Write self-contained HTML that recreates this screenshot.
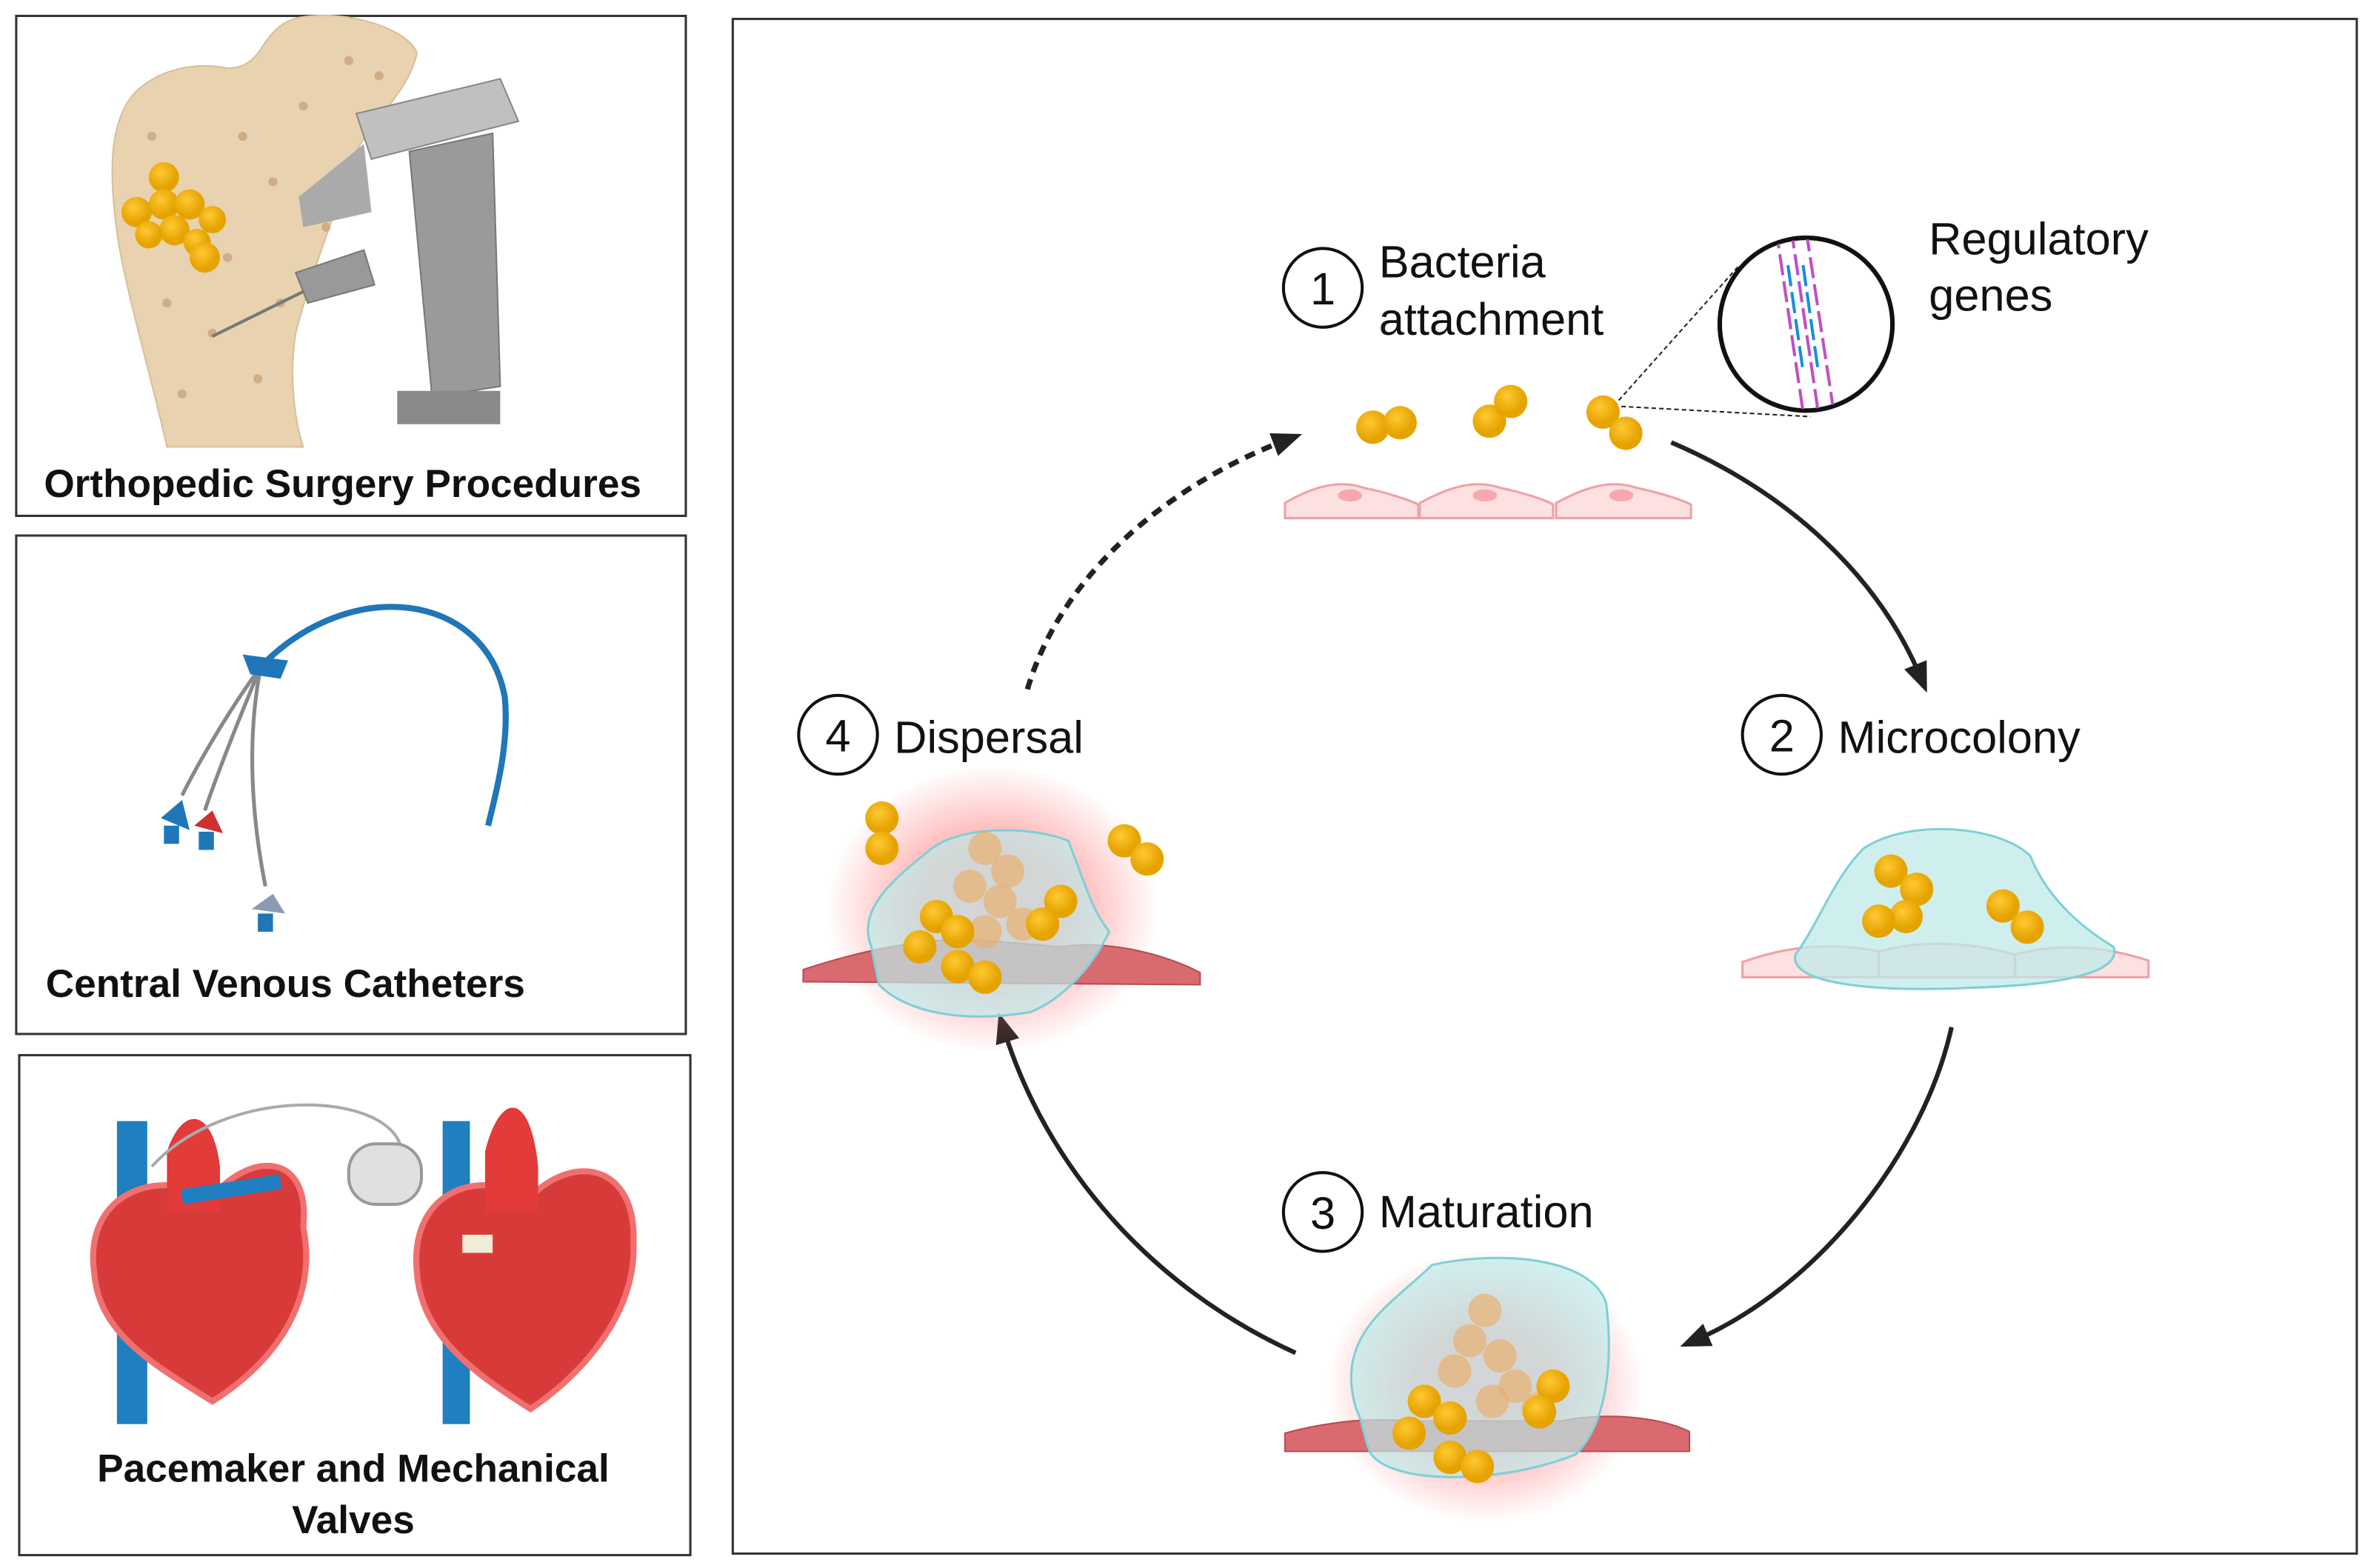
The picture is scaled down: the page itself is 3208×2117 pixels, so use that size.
<!DOCTYPE html>
<html><head><meta charset="utf-8"><style>
html,body{margin:0;padding:0;background:#fff}
svg{display:block}
text{font-family:"Liberation Sans",sans-serif}
</style></head><body>
<svg width="3208" height="2117" viewBox="0 0 1568 1035" xmlns="http://www.w3.org/2000/svg">
<defs>
<radialGradient id="glow"><stop offset="0.4" stop-color="#ff6060" stop-opacity="0.55"/><stop offset="1" stop-color="#ff6060" stop-opacity="0"/></radialGradient>
<radialGradient id="ball" cx="0.4" cy="0.35"><stop offset="0" stop-color="#ffc933"/><stop offset="1" stop-color="#e5a300"/></radialGradient>
<marker id="ahl" markerWidth="20" markerHeight="20" refX="10" refY="10" orient="auto" markerUnits="userSpaceOnUse" viewBox="0 0 20 20"><path d="M0,2 L20,10 L0,18 z" fill="#222"/></marker>
<clipPath id="mag"><circle cx="1192" cy="214" r="56"/></clipPath>
</defs>
<rect width="1568" height="1035" fill="#fff"/>
<rect x="10.5" y="10.5" width="442" height="330" fill="none" stroke="#333" stroke-width="1.5"/>
<rect x="10.5" y="353.5" width="442" height="329" fill="none" stroke="#333" stroke-width="1.5"/>
<rect x="12.5" y="696.5" width="443" height="330" fill="none" stroke="#333" stroke-width="1.5"/>
<rect x="483.5" y="12.5" width="1072" height="1013" fill="none" stroke="#333" stroke-width="1.5"/>

<!-- bone -->
<path d="M110,295 C100,250 85,200 78,160 C72,120 70,80 90,60 C110,42 135,42 150,45 C175,45 170,20 195,12 C230,5 270,20 275,35 C270,60 245,80 235,100 C225,130 205,180 195,220 C190,250 195,280 200,295 Z" fill="#e8d2b0" stroke="#d8bf98"/>
<g fill="#c9a57a" opacity="0.8">
<circle cx="120" cy="150" r="3"/><circle cx="150" cy="170" r="3"/><circle cx="180" cy="120" r="3"/><circle cx="200" cy="70" r="3"/><circle cx="230" cy="40" r="3"/><circle cx="140" cy="220" r="3"/><circle cx="170" cy="250" r="3"/><circle cx="120" cy="260" r="3"/><circle cx="250" cy="50" r="3"/><circle cx="160" cy="90" r="3"/><circle cx="110" cy="200" r="3"/><circle cx="185" cy="200" r="3"/><circle cx="215" cy="150" r="3"/><circle cx="100" cy="90" r="3"/>
</g>
<g fill="url(#ball)">
<circle cx="108" cy="117" r="10"/><circle cx="90" cy="140" r="10"/><circle cx="108" cy="135" r="10"/><circle cx="125" cy="135" r="10"/><circle cx="140" cy="145" r="9"/><circle cx="115" cy="152" r="10"/><circle cx="130" cy="160" r="9"/><circle cx="135" cy="170" r="10"/><circle cx="98" cy="155" r="9"/>
</g>
<!-- drill -->
<line x1="140" y1="222" x2="205" y2="190" stroke="#777" stroke-width="2"/>
<path d="M195,180 L240,165 L247,188 L203,200 Z" fill="#999" stroke="#777"/>
<path d="M235,75 L330,52 L342,80 L245,105 Z" fill="#c0c0c0" stroke="#888"/>
<path d="M240,95 L245,140 L200,150 L197,130 Z" fill="#aaa"/>
<path d="M270,100 L325,88 L330,255 L285,262 Z" fill="#9a9a9a" stroke="#777"/>
<rect x="262" y="258" width="68" height="22" fill="#8a8a8a"/>
<text x="226" y="328" font-size="26" font-weight="bold" text-anchor="middle" fill="#111">Orthopedic Surgery Procedures</text>

<!-- catheter -->
<path d="M172,440 C230,380 320,390 333,460 C336,490 328,520 322,545" fill="none" stroke="#1f76b8" stroke-width="4"/>
<path d="M172,440 C150,470 130,505 120,525 M172,440 C155,480 140,520 135,535 M172,440 C160,500 170,560 175,585" fill="none" stroke="#888" stroke-width="2.5"/>
<path d="M160,432 L190,436 L185,448 L165,445 Z" fill="#1f76b8"/>
<path d="M106,540 L120,528 L125,548 Z" fill="#1f76b8"/><rect x="108" y="545" width="10" height="12" fill="#1f76b8"/>
<path d="M128,545 L140,535 L147,550 Z" fill="#d03030"/><rect x="131" y="549" width="10" height="12" fill="#1f76b8"/>
<path d="M166,600 L180,590 L188,603 Z" fill="#8a9ab0"/><rect x="170" y="603" width="10" height="12" fill="#1f76b8"/>
<text x="30" y="658" font-size="26" font-weight="bold" fill="#111">Central Venous Catheters</text>

<!-- hearts -->
<g>
<rect x="77" y="740" width="20" height="200" fill="#1f7fc0"/>
<path d="M62,840 C55,790 100,770 140,790 C165,760 205,760 200,810 C210,860 180,900 140,925 C100,900 65,880 62,840 Z" fill="#d83a3a" stroke="#f07070" stroke-width="4"/>
<path d="M110,760 C120,730 140,730 145,770 L145,800 L110,800 Z" fill="#e33a3a"/>
<path d="M120,790 L185,780" stroke="#1f7fc0" stroke-width="10"/>
<path d="M100,770 C150,715 260,720 265,760" fill="none" stroke="#aaa" stroke-width="2"/>
<rect x="230" y="755" width="48" height="40" rx="18" fill="#e0e0e0" stroke="#999" stroke-width="2"/>
<rect x="292" y="740" width="18" height="200" fill="#1f7fc0"/>
<path d="M275,840 C270,790 310,770 350,790 C380,760 420,770 418,820 C420,870 380,910 350,930 C310,905 278,880 275,840 Z" fill="#d83a3a" stroke="#f07070" stroke-width="4"/>
<path d="M320,760 C330,720 350,720 355,770 L355,800 L320,800 Z" fill="#e33a3a"/>
<rect x="305" y="815" width="20" height="12" fill="#f0ecd8"/>
</g>
<text x="233" y="978" font-size="26" font-weight="bold" text-anchor="middle" fill="#111">Pacemaker and Mechanical</text>
<text x="233" y="1012" font-size="26" font-weight="bold" text-anchor="middle" fill="#111">Valves</text>

<!-- labels -->
<g fill="none" stroke="#111" stroke-width="2">
<circle cx="873" cy="190" r="26"/><circle cx="1176" cy="485" r="26"/><circle cx="873" cy="800" r="26"/><circle cx="553" cy="485" r="26"/>
</g>
<g font-size="30" fill="#111">
<text x="873" y="201" text-anchor="middle">1</text><text x="1176" y="496" text-anchor="middle">2</text><text x="873" y="811" text-anchor="middle">3</text><text x="553" y="496" text-anchor="middle">4</text>
<text x="910" y="183">Bacteria</text><text x="910" y="221">attachment</text>
<text x="1273" y="168">Regulatory</text><text x="1273" y="205">genes</text>
<text x="1213" y="497">Microcolony</text><text x="910" y="810">Maturation</text><text x="590" y="497">Dispersal</text>
</g>

<!-- magnifier -->
<line x1="1065" y1="268" x2="1148" y2="175" stroke="#222" stroke-dasharray="3,2"/>
<line x1="1065" y1="268" x2="1195" y2="275" stroke="#222" stroke-dasharray="3,2"/>
<circle cx="1192" cy="214" r="57" fill="#fff" stroke="#111" stroke-width="3"/>
<g stroke-width="2" stroke-dasharray="14,4" clip-path="url(#mag)">
<line x1="1172" y1="150" x2="1190" y2="272" stroke="#c050c0"/>
<line x1="1182" y1="150" x2="1200" y2="272" stroke="#c050c0"/>
<line x1="1192" y1="152" x2="1210" y2="270" stroke="#c050c0"/>
<line x1="1180" y1="175" x2="1190" y2="245" stroke="#1a8fd6"/>
<line x1="1190" y1="175" x2="1200" y2="245" stroke="#1a8fd6"/>
</g>

<!-- arrows -->
<path d="M1103,292 C1180,325 1240,380 1268,448" fill="none" stroke="#222" stroke-width="3" marker-end="url(#ahl)"/>
<path d="M1288,678 C1270,760 1200,850 1118,885" fill="none" stroke="#222" stroke-width="3" marker-end="url(#ahl)"/>
<path d="M855,893 C760,850 690,770 662,678" fill="none" stroke="#222" stroke-width="3" marker-end="url(#ahl)"/>
<path d="M678,455 C700,380 770,320 850,290" fill="none" stroke="#222" stroke-width="3.5" stroke-dasharray="7,5" marker-end="url(#ahl)"/>

<!-- stage 1 -->
<g fill="#fde0e0" stroke="#f0a0a8" stroke-width="1.5">
<path d="M848,342 L848,332 C860,325 880,315 900,322 C915,325 930,330 936,333 L936,342 Z"/>
<path d="M937,342 L937,332 C950,325 970,315 990,322 C1005,325 1020,330 1025,333 L1025,342 Z"/>
<path d="M1027,342 L1027,332 C1040,325 1060,315 1080,322 C1095,325 1110,330 1116,333 L1116,342 Z"/>
</g>
<g fill="#f7a8ae"><ellipse cx="891" cy="327" rx="8" ry="4"/><ellipse cx="980" cy="327" rx="8" ry="4"/><ellipse cx="1070" cy="327" rx="8" ry="4"/></g>
<g fill="url(#ball)">
<circle cx="906" cy="282" r="11"/><circle cx="924" cy="279" r="11"/>
<circle cx="983" cy="278" r="11"/><circle cx="997" cy="265" r="11"/>
<circle cx="1058" cy="272" r="11"/><circle cx="1073" cy="286" r="11"/>
</g>

<!-- stage 2 -->
<g fill="#fde0e0" stroke="#f0a0a8" stroke-width="1.5">
<path d="M1150,645 L1150,635 C1170,628 1200,620 1240,628 L1240,645 Z"/>
<path d="M1240,645 L1240,628 C1270,620 1300,622 1330,630 L1330,645 Z"/>
<path d="M1330,645 L1330,630 C1360,622 1390,625 1418,634 L1418,645 Z"/>
</g>
<path d="M1185,630 C1200,610 1210,580 1230,560 C1260,540 1320,545 1340,565 C1350,590 1370,610 1395,625 C1400,640 1370,650 1300,652 C1240,655 1180,650 1185,630 Z" fill="#bfeaea" fill-opacity="0.75" stroke="#7fcfd6" stroke-width="1.5"/>
<g fill="url(#ball)">
<circle cx="1248" cy="575" r="11"/><circle cx="1265" cy="587" r="11"/><circle cx="1258" cy="605" r="11"/><circle cx="1240" cy="608" r="11"/>
<circle cx="1322" cy="598" r="11"/><circle cx="1338" cy="612" r="11"/>
</g>

<!-- stage 3 -->
<ellipse cx="980" cy="915" rx="105" ry="90" fill="url(#glow)"/>
<path d="M848,958 L848,946 C870,940 900,935 930,938 L1030,938 C1060,932 1095,935 1115,945 L1115,958 Z" fill="#d86a70" stroke="#b84a52"/>
<path d="M895,930 C880,880 920,860 945,835 C990,825 1050,830 1060,860 C1065,900 1060,940 1040,960 C990,980 920,980 905,960 C900,950 900,940 895,930 Z" fill="#bfeaea" fill-opacity="0.7" stroke="#7fcfd6" stroke-width="1.5"/>
<g fill="#e8b070" fill-opacity="0.7">
<circle cx="970" cy="885" r="11"/><circle cx="990" cy="895" r="11"/><circle cx="960" cy="905" r="11"/><circle cx="1000" cy="915" r="11"/><circle cx="985" cy="925" r="11"/><circle cx="1015" cy="930" r="11"/><circle cx="980" cy="865" r="11"/>
</g>
<g fill="url(#ball)">
<circle cx="940" cy="925" r="11"/><circle cx="957" cy="936" r="11"/><circle cx="1025" cy="915" r="11"/><circle cx="1016" cy="932" r="11"/><circle cx="957" cy="962" r="11"/><circle cx="975" cy="968" r="11"/><circle cx="930" cy="946" r="11"/>
</g>

<!-- stage 4 -->
<ellipse cx="655" cy="600" rx="110" ry="95" fill="url(#glow)"/>
<path d="M530,648 L530,640 C560,630 600,620 640,620 L700,625 C730,620 770,630 792,642 L792,650 Z" fill="#d86a70" stroke="#b84a52"/>
<path d="M575,625 C565,600 590,580 615,560 C635,545 680,545 705,555 C715,580 720,600 732,615 C720,640 700,660 680,668 C640,675 600,670 580,650 Z" fill="#bfeaea" fill-opacity="0.7" stroke="#7fcfd6" stroke-width="1.5"/>
<g fill="#e8b070" fill-opacity="0.7">
<circle cx="650" cy="560" r="11"/><circle cx="665" cy="575" r="11"/><circle cx="640" cy="585" r="11"/><circle cx="660" cy="595" r="11"/><circle cx="675" cy="610" r="11"/><circle cx="650" cy="615" r="11"/>
</g>
<g fill="url(#ball)">
<circle cx="582" cy="540" r="11"/><circle cx="582" cy="560" r="11"/>
<circle cx="742" cy="555" r="11"/><circle cx="757" cy="567" r="11"/>
<circle cx="618" cy="605" r="11"/><circle cx="632" cy="615" r="11"/><circle cx="700" cy="595" r="11"/><circle cx="688" cy="610" r="11"/><circle cx="632" cy="638" r="11"/><circle cx="650" cy="645" r="11"/><circle cx="607" cy="625" r="11"/>
</g>
</svg>
</body></html>
